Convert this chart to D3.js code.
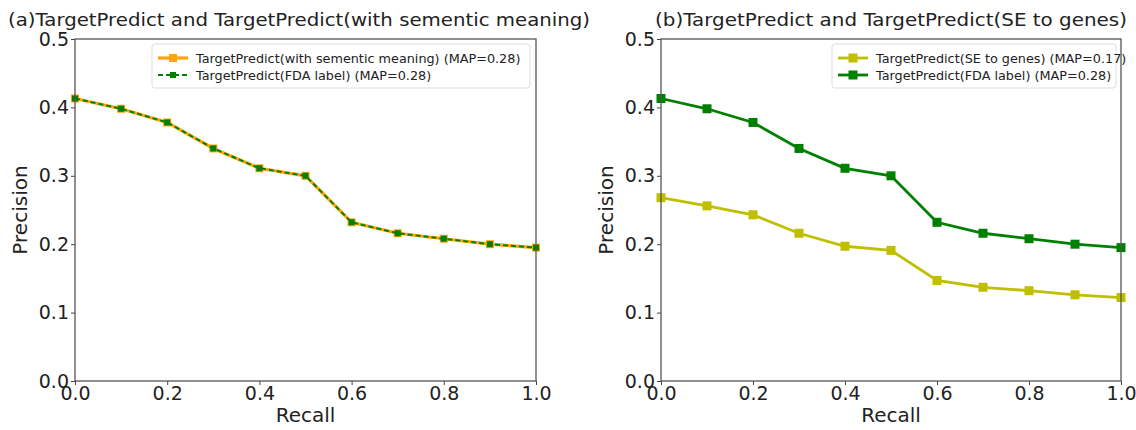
<!DOCTYPE html>
<html><head><meta charset="utf-8">
<script src="https://cdn.jsdelivr.net/npm/d3@7"></script>
<style>body{margin:0;background:#fff}svg{display:block}text{font-family:"DejaVu Sans",sans-serif;fill:#222}</style>
</head><body><svg id="c" width="1136" height="430"></svg>
<script>
const recall = [0.0,0.1,0.2,0.3,0.4,0.5,0.6,0.7,0.8,0.9,1.0];
const fdaLabel = [0.413,0.398,0.378,0.340,0.311,0.300,0.232,0.216,0.208,0.200,0.195];
const semantic = [0.413,0.398,0.378,0.340,0.311,0.300,0.232,0.216,0.208,0.200,0.195];
const seToGenes = [0.268,0.256,0.243,0.216,0.197,0.191,0.147,0.137,0.132,0.126,0.122];
const xTicks = [0.0,0.2,0.4,0.6,0.8,1.0];
const yTicks = [0.0,0.1,0.2,0.3,0.4,0.5];
const titles = ["(a)TargetPredict and TargetPredict(with sementic meaning)","(b)TargetPredict and TargetPredict(SE to genes)"];
const legendA = ["TargetPredict(with sementic meaning) (MAP=0.28)","TargetPredict(FDA label) (MAP=0.28)"];
const legendB = ["TargetPredict(SE to genes) (MAP=0.17)","TargetPredict(FDA label) (MAP=0.28)"];

const svg = d3.select("#c");
const panels = [
  {x0:75,x1:536,title:titles[0],tx:8,tw:582,
   series:[{v:semantic,color:"#ffa500",w:3.2,dash:null,ms:8},{v:fdaLabel,color:"#008000",w:2,dash:"5,3",ms:6}],
   legend:legendA,lx:152,lw:378},
  {x0:661,x1:1121,title:titles[1],tx:655,tw:472,
   series:[{v:seToGenes,color:"#bfbf00",w:2.8,dash:null,ms:9},{v:fdaLabel,color:"#008000",w:2.8,dash:null,ms:9}],
   legend:legendB,lx:832,lw:284}
];
const yTop=39,yBot=381;
panels.forEach(p=>{
  const x=d3.scaleLinear().domain([0,1]).range([p.x0,p.x1]);
  const y=d3.scaleLinear().domain([0,0.5]).range([yBot,yTop]);
  const g=svg.append("g");
  g.append("text").attr("x",p.tx).attr("y",26).attr("font-size",18)
    .attr("textLength",p.tw).attr("lengthAdjust","spacingAndGlyphs").text(p.title);
  p.series.forEach(s=>{
    const line=d3.line().x((d,i)=>x(recall[i])).y(d=>y(d));
    g.append("path").datum(s.v).attr("d",line).attr("fill","none")
      .attr("stroke",s.color).attr("stroke-width",s.w).attr("stroke-dasharray",s.dash);
    g.selectAll(null).data(s.v).enter().append("rect")
      .attr("x",(d,i)=>x(recall[i])-s.ms/2).attr("y",d=>y(d)-s.ms/2)
      .attr("width",s.ms).attr("height",s.ms).attr("fill",s.color);
  });
  const xa=g.append("g").attr("transform",`translate(0,${yBot})`)
    .call(d3.axisBottom(x).tickValues(xTicks).tickFormat(d3.format(".1f")).tickSize(4).tickPadding(2));
  const ya=g.append("g").attr("transform",`translate(${p.x0},0)`)
    .call(d3.axisLeft(y).tickValues(yTicks).tickFormat(d3.format(".1f")).tickSize(4).tickPadding(2));
  [xa,ya].forEach(a=>{a.select(".domain").remove();a.selectAll("line").attr("stroke","#444");
    a.selectAll("text").attr("font-size",19).attr("font-family","DejaVu Sans").attr("fill","#222");});
  g.append("rect").attr("x",p.x0).attr("y",yTop).attr("width",p.x1-p.x0).attr("height",yBot-yTop)
    .attr("fill","none").attr("stroke","#555").attr("stroke-width",1.3);
  g.append("text").attr("x",(p.x0+p.x1)/2).attr("y",422).attr("text-anchor","middle").attr("font-size",20).text("Recall");
  g.append("text").attr("transform",`translate(${p.x0-48},${(yTop+yBot)/2}) rotate(-90)`)
    .attr("text-anchor","middle").attr("font-size",20).text("Precision");
  g.append("rect").attr("x",p.lx).attr("y",44).attr("width",p.lw).attr("height",44).attr("rx",3)
    .attr("fill","#fff").attr("stroke","#ddd");
  p.legend.forEach((t,i)=>{
    const s=p.series[i], cy=58+i*17, hx=p.lx+6;
    g.append("line").attr("x1",hx).attr("x2",hx+30).attr("y1",cy).attr("y2",cy)
      .attr("stroke",s.color).attr("stroke-width",s.w).attr("stroke-dasharray",s.dash);
    g.append("rect").attr("x",hx+15-s.ms/2).attr("y",cy-s.ms/2).attr("width",s.ms).attr("height",s.ms).attr("fill",s.color);
    g.append("text").attr("x",hx+38).attr("y",cy+4.5).attr("font-size",12.8).text(t);
  });
});
</script></body></html>
